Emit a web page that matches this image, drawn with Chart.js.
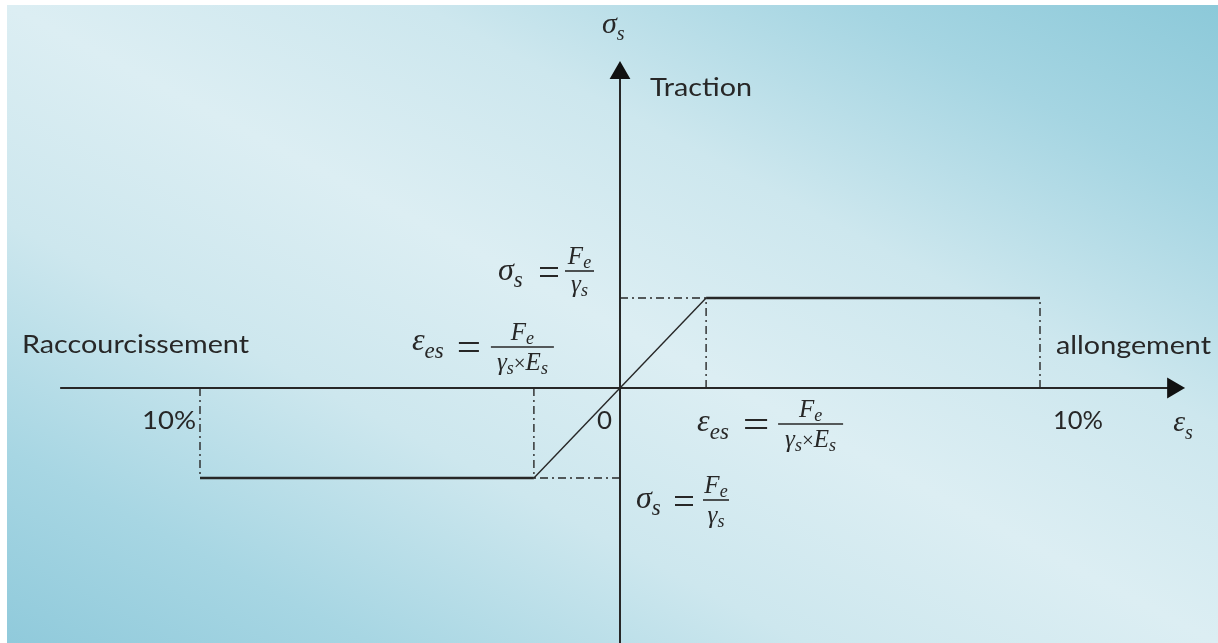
<!DOCTYPE html>
<html><head><meta charset="utf-8">
<script src="https://cdn.jsdelivr.net/npm/chart.js@4/dist/chart.umd.min.js"></script>
<style>html,body{margin:0;padding:0;background:#fff;overflow:hidden}canvas{display:block}</style>
</head><body>
<canvas id="c" width="1218" height="643"></canvas>
<script>
// Strain εs (‰, the figure labels the limit "10%") and stress σs normalised to fe/γs
const strainLimit = 10;
const strainElastic = 2.05;
const stressYield = 1;
const curveStrain = [-10, -2.05, 2.05, 10];
const curveStress = [-1, -1, 1, 1];
const guideStrain = [-10, -2.05, 2.05, 10];
const guideStress = [-1, -1, 1, 1];
const levelStrain = [2.05, -2.05];
const levelStress = [1, -1];
const xAxisRange = [-13.33, 13.17];
const yAxisRange = [-3.2, 3.5];
const tickValues = [-10, 0, 10];
const tickLabels = ['10%', '0', '10%'];

const INK = '#272727';
const dashDot = [8, 4, 2, 4];

const datasets = [];
datasets.push({
  data: curveStrain.map((x, i) => ({x, y: curveStress[i]})),
  showLine: true, borderColor: INK, borderWidth: 2.4, pointRadius: 0, clip: false,
  segment: { borderWidth: c => c.p0DataIndex === 1 ? 1.4 : 2.4 }
});
guideStrain.forEach((g, i) => datasets.push({
  data: [{x: g, y: 0}, {x: g, y: guideStress[i]}],
  showLine: true, borderColor: INK, borderWidth: 1.4, borderDash: dashDot, pointRadius: 0, clip: false
}));
levelStrain.forEach((g, i) => datasets.push({
  data: [{x: 0, y: levelStress[i]}, {x: g, y: levelStress[i]}],
  showLine: true, borderColor: INK, borderWidth: 1.4, borderDash: dashDot, pointRadius: 0, clip: false
}));
datasets.push({
  data: [{x: xAxisRange[0], y: 0}, {x: xAxisRange[1], y: 0}],
  showLine: true, borderColor: INK, borderWidth: 2, pointRadius: [0, 10], clip: false,
  pointStyle: 'triangle', rotation: 90, pointBackgroundColor: '#111', pointBorderColor: '#111'
});
datasets.push({
  data: [{x: 0, y: yAxisRange[0]}, {x: 0, y: yAxisRange[1]}],
  showLine: true, borderColor: INK, borderWidth: 2, pointRadius: [0, 10], clip: false,
  pointStyle: 'triangle', rotation: 0, pointBackgroundColor: '#111', pointBorderColor: '#111'
});

const bgPlugin = {
  id: 'bg',
  beforeDraw(chart) {
    const ctx = chart.ctx, W = chart.width, H = chart.height;
    ctx.save();
    ctx.fillStyle = '#fff'; ctx.fillRect(0, 0, W, H);
    const x0 = 7, y0 = 5, w = W - x0, h = H - y0;
    const cx = x0 + w / 2, cy = y0 + h / 2;
    const L = Math.hypot(w, h), half = w * h / L;
    const ux = -h / L, uy = w / L;
    const g = ctx.createLinearGradient(cx - ux * half, cy - uy * half, cx + ux * half, cy + uy * half);
    g.addColorStop(0, '#8cc9d9');
    g.addColorStop(0.15, '#a5d5e2');
    g.addColorStop(0.33, '#cde7ee');
    g.addColorStop(0.5, '#dceef3');
    g.addColorStop(0.67, '#cde7ee');
    g.addColorStop(0.85, '#a7d6e3');
    g.addColorStop(1, '#90cadb');
    ctx.fillStyle = g; ctx.fillRect(x0, y0, w, h);
    ctx.restore();
  }
};

const MF = '"Liberation Serif", "DejaVu Serif", serif';
function P(t, size, italic = true, dy = 0) { return {t, size, italic, dy}; }
function runWidth(ctx, parts) {
  let w = 0;
  for (const p of parts) { ctx.font = `${p.italic ? 'italic ' : ''}${p.size}px ${MF}`; w += ctx.measureText(p.t).width; }
  return w;
}
function drawRun(ctx, parts, x, base) {
  for (const p of parts) {
    ctx.font = `${p.italic ? 'italic ' : ''}${p.size}px ${MF}`;
    ctx.fillText(p.t, x, base + p.dy);
    x += ctx.measureText(p.t).width;
  }
  return x;
}
function frac(ctx, num, den, x1, x2, y, nb, db) {
  ctx.save();
  ctx.strokeStyle = INK; ctx.lineWidth = 1.6;
  ctx.beginPath(); ctx.moveTo(x1, y); ctx.lineTo(x2, y); ctx.stroke();
  ctx.restore();
  const c = (x1 + x2) / 2;
  drawRun(ctx, num, c - runWidth(ctx, num) / 2, nb);
  drawRun(ctx, den, c - runWidth(ctx, den) / 2, db);
}
function eq(ctx, x1, x2, yc) {
  ctx.save();
  ctx.strokeStyle = INK; ctx.lineWidth = 1.8;
  ctx.beginPath();
  ctx.moveTo(x1, yc - 4); ctx.lineTo(x2, yc - 4);
  ctx.moveTo(x1, yc + 4); ctx.lineTo(x2, yc + 4);
  ctx.stroke();
  ctx.restore();
}
function fitText(ctx, text, left, base, width, size) {
  ctx.save();
  ctx.font = `${size}px Lato, "Open Sans", sans-serif`;
  const w = ctx.measureText(text).width;
  ctx.translate(left, base);
  ctx.scale(width / w, 1);
  ctx.fillText(text, 0, 0);
  ctx.restore();
}

const textPlugin = {
  id: 'texts',
  afterDatasetsDraw(chart) {
    const ctx = chart.ctx, xs = chart.scales.x, ys = chart.scales.y;
    const X0 = xs.getPixelForValue(0), Y0 = ys.getPixelForValue(0);
    const XE = xs.getPixelForValue(strainElastic), XEn = xs.getPixelForValue(-strainElastic);
    const YS = ys.getPixelForValue(stressYield), YSn = ys.getPixelForValue(-stressYield);
    const XL = xs.getPixelForValue(tickValues[2]), XLn = xs.getPixelForValue(tickValues[0]);
    const YT = ys.getPixelForValue(yAxisRange[1]), XR = xs.getPixelForValue(xAxisRange[1]);
    ctx.save();
    ctx.fillStyle = INK; ctx.textBaseline = 'alphabetic'; ctx.textAlign = 'left';

    // sans labels
    fitText(ctx, 'Traction', X0 + 30, YT + 23, 102, 25);
    fitText(ctx, 'Raccourcissement', 22, Y0 - 35, 227, 25);
    fitText(ctx, 'allongement', XL + 16, Y0 - 34, 155, 25);
    fitText(ctx, tickLabels[0], XLn - 58, Y0 + 41, 54, 25);
    fitText(ctx, tickLabels[1], X0 - 23, Y0 + 41, 15, 25);
    fitText(ctx, tickLabels[2], XL + 13, Y0 + 41, 50, 25);

    // axis symbols
    drawRun(ctx, [P('σ', 30), P('s', 20, true, 7)], X0 - 18, YT - 40);
    drawRun(ctx, [P('ε', 30), P('s', 20, true, 8)], XR + 0, Y0 + 43);

    const Fe = [P('F', 25), P('e', 18, true, 4)];
    const gs = [P('γ', 25), P('s', 18, true, 4)];
    const gsEs = [P('γ', 25), P('s', 18, true, 4), P('×', 21, false), P('E', 25), P('s', 18, true, 4)];

    // upper σs = Fe/γs
    drawRun(ctx, [P('σ', 32), P('s', 23, true, 7)], X0 - 122, YS - 18);
    eq(ctx, X0 - 80, X0 - 62, YS - 26);
    frac(ctx, Fe, gs, X0 - 55, X0 - 26, YS - 27, YS - 34, YS - 6);

    // upper εes = Fe/(γs×Es)
    drawRun(ctx, [P('ε', 32), P('es', 23, true, 8)], XEn - 122, Y0 - 38);
    eq(ctx, XEn - 75, XEn - 55, Y0 - 41);
    frac(ctx, Fe, gsEs, XEn - 43, XEn + 20, Y0 - 41, Y0 - 48, Y0 - 18);

    // lower εes = Fe/(γs×Es)
    drawRun(ctx, [P('ε', 32), P('es', 23, true, 8)], XE - 9, Y0 + 43);
    eq(ctx, XE + 39, XE + 61, Y0 + 36);
    frac(ctx, Fe, gsEs, XE + 72, XE + 137, Y0 + 36, Y0 + 29, Y0 + 59);

    // lower σs = Fe/γs
    drawRun(ctx, [P('σ', 32), P('s', 23, true, 7)], X0 + 16, YSn + 30);
    eq(ctx, X0 + 55, X0 + 73, YSn + 23);
    frac(ctx, Fe, gs, X0 + 83, X0 + 109, YSn + 22, YSn + 15, YSn + 45);

    ctx.restore();
  }
};

new Chart(document.getElementById('c'), {
  type: 'scatter',
  data: { datasets },
  options: {
    responsive: false, animation: false, devicePixelRatio: 1,
    layout: { padding: 0, autoPadding: false },
    plugins: { legend: { display: false }, tooltip: { enabled: false } },
    scales: {
      x: { type: 'linear', display: false, min: -620 / 42, max: 598 / 42 },
      y: { type: 'linear', display: false, min: -255 / 90, max: 388 / 90 }
    }
  },
  plugins: [bgPlugin, textPlugin]
});
</script>
</body></html>
